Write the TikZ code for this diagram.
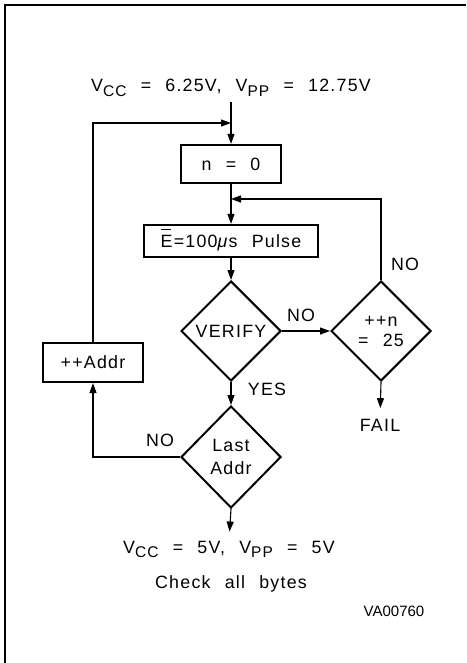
\documentclass[tikz,border=0pt]{standalone}
\usepackage{fontspec}
\setmainfont{Liberation Sans}[LetterSpace=7,WordSpace=2.3]
\newfontfamily\codefont{Liberation Sans}
\usetikzlibrary{arrows.meta, positioning, shapes.geometric}

% lowered subscript, plotter style
\newcommand{\vsub}[1]{\raisebox{-4.5pt}{\fontsize{15.5}{15.5}\selectfont #1}}
% E with a bar set well above it
\newcommand{\ebar}{\makebox[0pt][l]{\hspace{0.5pt}\raisebox{17pt}{\rule{10pt}{1.1pt}}}E}

\begin{document}
\begin{tikzpicture}[
    x=1pt, y=-1pt,
    font=\fontsize{17.8}{21}\selectfont,
    step box/.style={
        draw=black,
        line width=2.2pt,
        minimum width=100pt,
        minimum height=38pt,
        inner sep=0pt,
        text height=12.5pt,  % keep baseline fixed
        text depth=0pt
    },
    decision/.style={
        diamond,
        draw=black,
        line width=2pt,
        minimum width=100pt,
        minimum height=100pt,
        inner sep=0pt,
        align=center
    },
    flow line/.style={line width=1.1pt, -{Triangle[length=10pt,width=7pt]}},
    label text/.style={inner sep=0pt, align=center}
]
    \useasboundingbox (0,0) rectangle (466,663);
    % frame
    \draw[line width=2pt] (5,663) -- (5,5) -- (466,5);

    % blocks
    \node[label text, anchor=base] (vstart) at (231,92)
        {V\vsub{CC} = 6.25V, V\vsub{PP} = 12.75V};
    \node[step box] (nzero) at (231,164) {n = 0};
    \node[step box, minimum width=174pt, minimum height=32pt] (pulse) at (231,241)
        {\ebar=100\textit{μ}s Pulse};
    \node[decision] (verify) at (231,331) {VERIFY};
    \node[decision, font=\fontsize{17.8}{20}\selectfont] (incn) at (381,331) {++n\\= 25};
    \node[step box, minimum height=39pt] (incaddr) at (93,362.5) {++Addr};
    \node[decision, minimum height=102pt, font=\fontsize{17.8}{23}\selectfont] (lastaddr) at (231,457)
        {Last\\Addr};
    \node[label text] (fail) at (380,425.5) {FAIL};
    \node[label text, anchor=base] (vend) at (229,553) {V\vsub{CC} = 5V, V\vsub{PP} = 5V};
    \node[label text, anchor=base] (check) at (231,588) {Check all bytes};
    \node[label text, anchor=base, font=\codefont\fontsize{15}{15}\selectfont] (code) at (394,616) {VA00760};

    % merge points
    \coordinate (mergeaddr) at (231,123);
    \coordinate (mergepulse) at (231,199);

    % connectors
    \draw[flow line, shorten <=10.5pt] (vstart.base) -- (nzero.north);
    \draw[flow line] (nzero.south) -- (pulse.north);
    \draw[flow line] (pulse.south) -- (verify.north);
    \draw[flow line] (verify.east) -- (incn.west);
    \draw[flow line] (verify.south) -- (lastaddr.north);
    \draw[flow line] (incn.north) |- (mergepulse);
    \draw[flow line, shorten >=11pt] (incn.south) -- (fail.north);
    \draw[flow line] (lastaddr.west) -| (incaddr.south);
    \draw[flow line] (incaddr.north) |- (mergeaddr);
    \draw[flow line, shorten >=9pt] (lastaddr.south) -- (vend.north);

    % branch labels
    \node[label text] (noverify) at (301,315) {NO};
    \node[label text] (noloop) at (405,264) {NO};
    \node[label text] (yesverify) at (267,389) {YES};
    \node[label text] (nolast) at (160,440) {NO};
\end{tikzpicture}
\end{document}
